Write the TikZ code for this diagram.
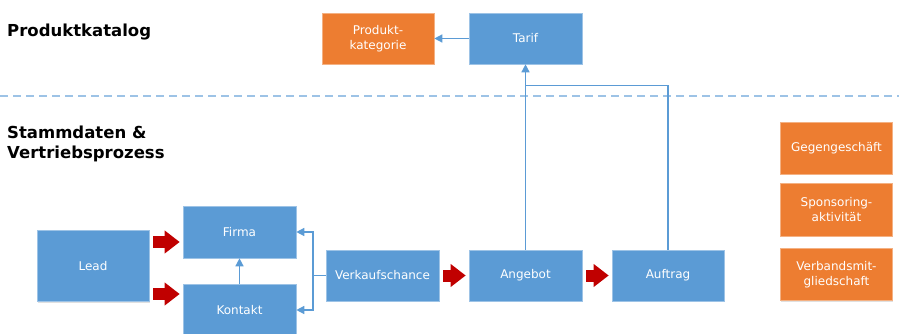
\documentclass[tikz,border=0pt]{standalone}
\usepackage{fontspec}
\setmainfont{DejaVu Sans}
\usetikzlibrary{arrows.meta,calc}
\definecolor{boxblue}{HTML}{5B9BD5}
\definecolor{boxorange}{HTML}{ED7D31}
\definecolor{arrred}{HTML}{C00000}
\definecolor{linblue}{HTML}{5B9BD5}
\definecolor{dashblue}{HTML}{9DC3E6}
\begin{document}
\begin{tikzpicture}[x=1pt,y=-1pt,
  basebox/.style={inner sep=0pt, align=center, text=white,
    font=\fontsize{12}{15}\selectfont,
    preaction={fill=black!12, transform canvas={shift={(0.6pt,-1.2pt)}}}},
  bluebox/.style={basebox, fill=boxblue, draw=boxblue!60!white, line width=0.6pt},
  orangebox/.style={basebox, fill=boxorange, draw=boxorange!60!white, line width=0.6pt},
  sz/.style 2 args={minimum width=#1pt, minimum height=#2pt},
  lin/.style={draw=linblue, line width=1.4pt},
  conn/.style={lin, -{Triangle[length=8pt,width=8pt]}},
  redarr/.style={draw=arrred, line width=12pt, -{Triangle[length=15pt,width=22pt]}, shorten <=4pt, shorten >=3pt},
  heading/.style={font=\fontsize{16.5}{20}\selectfont\bfseries, align=left, inner sep=0pt}
]
\useasboundingbox (0,0) rectangle (899,334);

% section headings
\node[heading, anchor=west] (hkat) at (7,32) {Produktkatalog};
\node[heading, anchor=north west] (hstamm) at (7,126) {Stammdaten \&\\Vertriebsprozess};

% dashed separator
\coordinate (sepL) at (0,96);
\coordinate (sepR) at (899,96);
\draw[draw=dashblue, line width=1.5pt, dash pattern=on 8pt off 5pt] (sepL) -- (sepR);

% boxes
\node[orangebox, sz={112}{51}] (kat) at (378,38.5) {Produkt-\\kategorie};
\node[bluebox, sz={113}{51}] (tarif) at (525.5,38.5) {Tarif};
\node[bluebox, sz={112}{71}] (lead) at (93,266) {Lead};
\node[bluebox, sz={113}{52}] (firma) at (239.5,232) {Firma};
\node[bluebox, sz={113}{51}] (kontakt) at (239.5,310) {Kontakt};
\node[bluebox, sz={113}{51}] (vk) at (382.5,275.5) {Verkaufschance};
\node[bluebox, sz={113}{51}] (angebot) at (525.5,275.5) {Angebot};
\node[bluebox, sz={112}{51}] (auftrag) at (668,275.5) {Auftrag};
\node[orangebox, sz={112}{52}] (geg) at (836.5,148) {Gegengeschäft};
\node[orangebox, sz={112}{53}] (spon) at (836.5,209.5) {Sponsoring-\\aktivität};
\node[orangebox, sz={112}{52}] (verb) at (836.5,274.5) {Verbandsmit-\\gliedschaft};

% blue connectors
\draw[conn] (tarif.west) -- (kat.east);
\draw[conn] (angebot.north) -- (tarif.south);
\coordinate (join) at (525.5,85.5);
\draw[lin] (auftrag.north) |- (join);
\draw[conn] (kontakt.north) -- (firma.south);
\coordinate (fork) at (313,275.5);
\draw[lin] (vk.west) -- (fork);
\draw[conn] (fork) |- (firma.east);
\draw[conn] (fork) |- (kontakt.east);

% red process arrows
\draw[redarr] ($(lead.east)+(0,-24)$) -- ($(firma.west |- lead.east)+(0,-24)$);
\draw[redarr] ($(lead.east)+(0,28)$) -- ($(kontakt.west |- lead.east)+(0,28)$);
\draw[redarr] (vk.east) -- (angebot.west);
\draw[redarr] (angebot.east) -- (auftrag.west);
\end{tikzpicture}
\end{document}
